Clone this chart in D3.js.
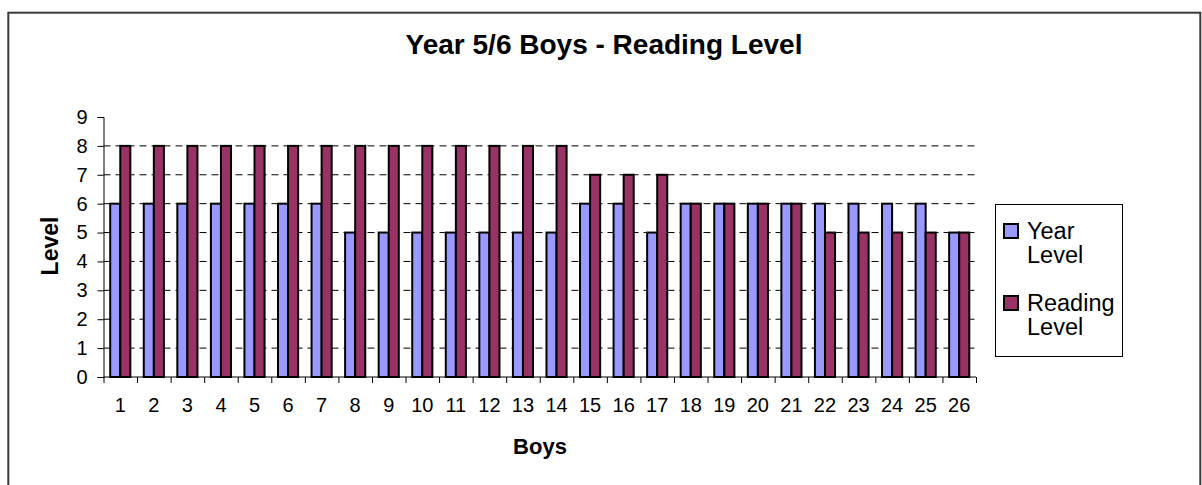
<!DOCTYPE html>
<html>
<head>
<meta charset="utf-8">
<script src="https://cdn.jsdelivr.net/npm/d3@7"></script>
<style>
  body { margin: 0; background: #fff; }
  text { font-family: Arial, "Liberation Sans", sans-serif; fill: #000; }
</style>
</head>
<body>
<div id="chart"></div>
<script>
// Year 5/6 Boys - reading level vs year level
const boys = d3.range(1, 27).map(String);
const yearLevel = [6, 6, 6, 6, 6, 6, 6, 5, 5, 5, 5, 5, 5, 5, 6, 6, 5, 6, 6, 6, 6, 6, 6, 6, 6, 5];
const readingLevel = [8, 8, 8, 8, 8, 8, 8, 8, 8, 8, 8, 8, 8, 8, 7, 7, 7, 6, 6, 6, 6, 5, 5, 5, 5, 5];
const seriesNames = ["Year Level", "Reading Level"];
const seriesColors = ["#9999FF", "#993366"];
const yTicks = [0, 1, 2, 3, 4, 5, 6, 7, 8, 9];

const W = 1202, H = 485;
const plotLeft = 103.5, plotRight = 976, plotTop = 117, plotBottom = 377;

const svg = d3.select("#chart").append("svg")
    .attr("width", W)
    .attr("height", H);

// outer frame
svg.append("rect")
    .attr("x", 8.3).attr("y", 12.7)
    .attr("width", 1192).attr("height", 490)
    .attr("fill", "none")
    .attr("stroke", "#3a3a3a")
    .attr("stroke-width", 2);

const x0 = d3.scaleBand().domain(boys).range([plotLeft, plotRight]).paddingInner(0.4).paddingOuter(0.2);
const x1 = d3.scaleBand().domain(seriesNames).range([0, x0.bandwidth()]);
const xEdge = d3.scaleLinear().domain([0, boys.length]).range([plotLeft, plotRight]);
const y = d3.scaleLinear().domain([0, 9]).range([plotBottom, plotTop]);

// dashed gridlines
svg.append("g")
    .selectAll("line")
    .data(yTicks.filter(d => d > 0 && d < 9))
    .enter()
    .append("line")
    .attr("x1", plotLeft).attr("x2", plotRight)
    .attr("y1", d => y(d)).attr("y2", d => y(d))
    .attr("stroke", "#000")
    .attr("stroke-width", 1)
    .attr("stroke-dasharray", "7,5");

// bars
const rows = boys.map((b, i) => ({ boy: b, values: [yearLevel[i], readingLevel[i]] }));
const groups = svg.append("g").selectAll("g")
    .data(rows)
    .enter()
    .append("g")
    .attr("transform", d => `translate(${x0(d.boy)},0)`);

groups.selectAll("rect")
    .data(d => d.values.map((v, i) => ({ key: seriesNames[i], value: v, color: seriesColors[i] })))
    .enter()
    .append("rect")
    .attr("x", d => x1(d.key))
    .attr("y", d => y(d.value))
    .attr("width", x1.bandwidth())
    .attr("height", d => y(0) - y(d.value))
    .attr("fill", d => d.color)
    .attr("stroke", "#000")
    .attr("stroke-width", 2);

// y axis
const yAxis = svg.append("g")
    .attr("transform", `translate(${plotLeft},0)`)
    .call(d3.axisLeft(y).tickValues(yTicks).tickSize(6).tickPadding(10));
yAxis.selectAll("text").style("font-size", "20px").style("font-family", "Arial, 'Liberation Sans', sans-serif");
yAxis.selectAll("line, path").attr("stroke", "#000");

// x axis: ticks at category edges, labels at centers
const xTicks = svg.append("g")
    .attr("transform", `translate(0,${plotBottom})`)
    .call(d3.axisBottom(xEdge).ticks(boys.length).tickFormat("").tickSize(6));
xTicks.select("path").attr("d", `M${plotLeft},0H${plotRight}`).attr("stroke", "#000");
xTicks.selectAll("line").attr("stroke", "#000");

const xLabels = svg.append("g")
    .attr("transform", `translate(0,${plotBottom})`)
    .call(d3.axisBottom(x0).tickSize(0).tickPadding(21));
xLabels.select("path").remove();
xLabels.selectAll("text").style("font-size", "20px").style("font-family", "Arial, 'Liberation Sans', sans-serif");

// titles
svg.append("text")
    .attr("x", 604).attr("y", 54)
    .attr("text-anchor", "middle")
    .style("font-size", "28px").style("font-weight", "bold")
    .text("Year 5/6 Boys - Reading Level");

svg.append("text")
    .attr("x", 540).attr("y", 454)
    .attr("text-anchor", "middle")
    .style("font-size", "22px").style("font-weight", "bold")
    .text("Boys");

svg.append("text")
    .attr("transform", "translate(58,246) rotate(-90)")
    .attr("text-anchor", "middle")
    .style("font-size", "23px").style("font-weight", "bold")
    .text("Level");

// legend
const legend = svg.append("g");
legend.append("rect")
    .attr("x", 995.5).attr("y", 204.5)
    .attr("width", 127).attr("height", 152)
    .attr("fill", "#fff")
    .attr("stroke", "#000")
    .attr("stroke-width", 1);

const legendItems = legend.selectAll("g.item")
    .data(seriesNames)
    .enter()
    .append("g")
    .attr("class", "item")
    .attr("transform", (d, i) => `translate(1004,${224 + i * 72})`);

legendItems.append("rect")
    .attr("width", 14).attr("height", 14)
    .attr("fill", (d, i) => seriesColors[i])
    .attr("stroke", "#000")
    .attr("stroke-width", 2);

legendItems.append("text")
    .attr("x", 23).attr("y", 15)
    .style("font-size", "23.5px")
    .selectAll("tspan")
    .data(d => d.split(" "))
    .enter()
    .append("tspan")
    .attr("x", 23)
    .attr("dy", (d, i) => i === 0 ? 0 : 24)
    .text(d => d);
</script>
</body>
</html>
